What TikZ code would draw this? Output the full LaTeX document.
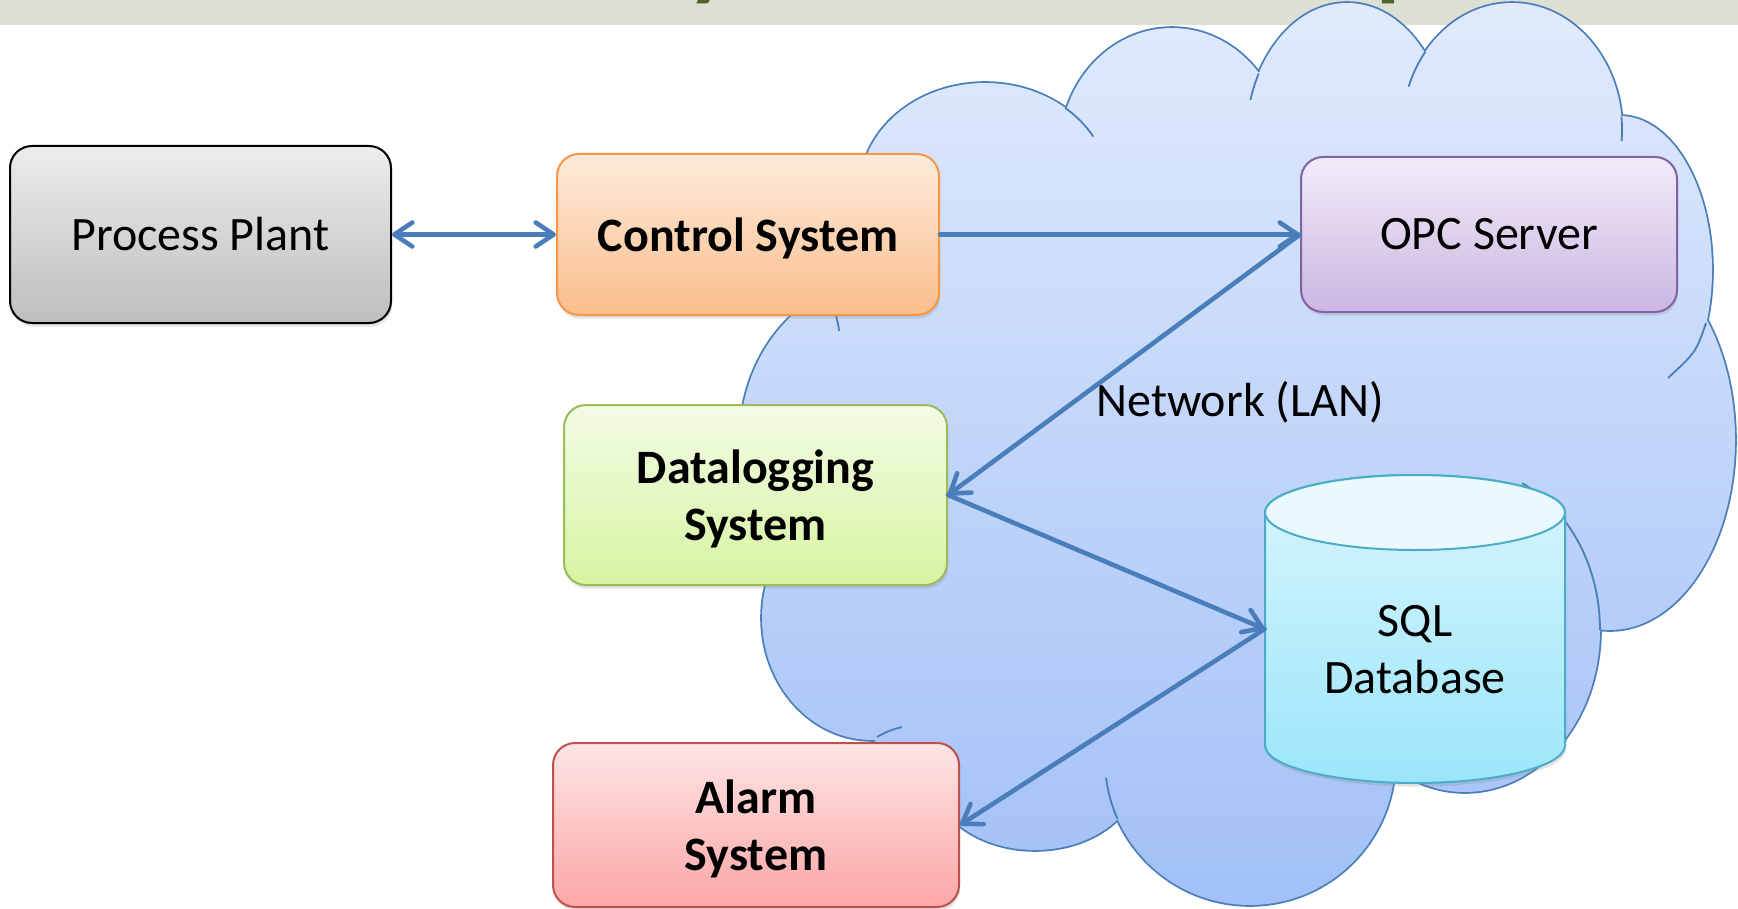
\documentclass[tikz,border=0pt]{standalone}
\usepackage{fontspec}
\setmainfont{Carlito}
\usetikzlibrary{arrows.meta,shadows}

\definecolor{bandgray}{RGB}{220,223,212}
\definecolor{titlegreen}{RGB}{79,98,40}
\definecolor{cloudtop}{RGB}{224,234,252}
\definecolor{cloudbot}{RGB}{162,192,247}
\definecolor{cloudline}{RGB}{74,126,187}
\definecolor{linkblue}{RGB}{74,126,187}
\definecolor{ppTop}{RGB}{236,236,236}
\definecolor{ppBot}{RGB}{190,190,190}
\definecolor{csTop}{RGB}{253,234,218}
\definecolor{csBot}{RGB}{250,190,140}
\definecolor{csLine}{RGB}{247,150,70}
\definecolor{opcTop}{RGB}{241,235,248}
\definecolor{opcBot}{RGB}{203,183,226}
\definecolor{opcLine}{RGB}{128,100,162}
\definecolor{dlTop}{RGB}{243,251,230}
\definecolor{dlBot}{RGB}{214,244,160}
\definecolor{dlLine}{RGB}{155,187,89}
\definecolor{alTop}{RGB}{253,229,229}
\definecolor{alBot}{RGB}{252,166,166}
\definecolor{alLine}{RGB}{192,80,77}
\definecolor{dbCap}{RGB}{234,249,254}
\definecolor{dbTop}{RGB}{216,245,253}
\definecolor{dbBot}{RGB}{156,230,250}
\definecolor{dbLine}{RGB}{75,172,198}

\newcommand\labelsize{\fontsize{24pt}{28.5pt}\selectfont}

\begin{document}
\begin{tikzpicture}[x=0.5pt, y=-0.5pt,
  >={Straight Barb[length=9pt,width=12pt,round]},
  box/.style={rounded corners=11pt, line width=1pt, align=center,
    inner sep=0pt, font=\labelsize,
    drop shadow={shadow xshift=0.6pt, shadow yshift=-1.8pt, opacity=0.22}},
  link/.style={draw=linkblue, line width=2.3pt, line cap=round},
  titlechar/.style={inner sep=0pt, text=titlegreen,
    font=\fontsize{49pt}{50pt}\selectfont\bfseries},
  puffs/.style={insert path={
    (985,190) ellipse [x radius=125, y radius=107]
    (1172,150) ellipse [x radius=112, y radius=122]
    (1347,140) ellipse [x radius=101, y radius=137]
    (1512,130) ellipse [x radius=110, y radius=127]
    (1620,270) ellipse [x radius=92, y radius=154]
    (1610,440) ellipse [x radius=125, y radius=190]
    (1465,630) ellipse [x radius=135, y radius=162]
    (1250,760) ellipse [x radius=145, y radius=145]
    (1035,770) ellipse [x radius=105, y radius=80]
    (872,618) ellipse [x radius=110, y radius=122]
    (880,440) ellipse [x radius=140, y radius=160]}},
  cloudcore/.style={insert path={
    (1250,450) ellipse [x radius=400, y radius=300]
    (880,190) -- (1065,125) -- (1258,90) -- (1425,70) -- (1610,130)
    -- (1690,325) -- (1595,615) -- (1380,750) -- (1125,805) -- (950,790)
    -- (875,741) -- (800,555) -- (920,300) -- cycle}},
  crease/.style={draw=cloudline, line width=0.9pt}
]
\useasboundingbox (0,0) rectangle (1738,909);
\fill[white] (0,0) rectangle (1738,909);

% title band with the lower ends of the heading letters
\fill[bandgray] (0,0) rectangle (1738,25);
\begin{scope}
  \clip (0,0) rectangle (1738,25);
  \node[titlechar, anchor=base west] (ty) at (687,-11) {y};
  \node[titlechar, anchor=base west] (tp) at (1376,-11) {p};
\end{scope}

% network cloud: outline of the puffs, then the gradient body on top
\draw[draw=cloudline, line width=1.8pt, puffs];
\shade[top color=cloudtop, bottom color=cloudbot, puffs, cloudcore];

% inner creases of the cloud
\draw[crease] (985,190) ++(-50:125 and 107)
  arc [start angle=-50, end angle=-30, x radius=125, y radius=107];
\draw[crease] (1347,140) ++(209:101 and 137)
  arc [start angle=209, end angle=197, x radius=101, y radius=137];
\draw[crease] (1512,130) ++(218:110 and 127)
  arc [start angle=218, end angle=200, x radius=110, y radius=127];
\draw[crease] (1512,130) ++(-6:110 and 127)
  arc [start angle=-6, end angle=5, x radius=110, y radius=127];
\draw[crease] (1706,323) .. controls (1696,352) .. (1668,378);
\draw[crease] (1465,630) ++(-65:135 and 162)
  arc [start angle=-65, end angle=0, x radius=135, y radius=162];
\draw[crease] (1250,760) ++(156:145 and 145)
  arc [start angle=156, end angle=173, x radius=145, y radius=145];
\draw[crease] (877,737) to[bend left=8] (902,727);
\draw[crease] (836,316) to[bend left=5] (839,331);

% boxes
\node[box, draw=black, top color=ppTop, bottom color=ppBot,
  minimum width=190.5pt, minimum height=88.5pt] (pp) at (200.5,234.5)
  {Process Plant};
\node[box, draw=csLine, top color=csTop, bottom color=csBot, text depth=0pt,
  minimum width=191pt, minimum height=80.5pt] (cs) at (748,234.5)
  {\bfseries Control System};
\node[box, draw=opcLine, top color=opcTop, bottom color=opcBot,
  minimum width=188pt, minimum height=77.5pt] (opc) at (1489,234.5)
  {OPC Server};
\node[box, draw=dlLine, top color=dlTop, bottom color=dlBot,
  minimum width=191.5pt, minimum height=90pt] (dl) at (755.5,495)
  {\bfseries Datalogging\\\bfseries \smash{System}};
\node[box, draw=alLine, top color=alTop, bottom color=alBot,
  minimum width=203pt, minimum height=82pt] (al) at (756,825)
  {\bfseries Alarm\\\bfseries \smash{System}};

% database cylinder
\node[inner sep=0pt, minimum width=150pt, minimum height=154pt] (db)
  at (1415,629) {};
\path[top color=dbTop, bottom color=dbBot, draw=dbLine, line width=1pt,
  drop shadow={shadow xshift=0.6pt, shadow yshift=-1.8pt, opacity=0.22}]
  (1265,512.5) -- (1265,745.5)
  arc [start angle=180, end angle=0, x radius=150, y radius=37.5]
  -- (1565,512.5)
  arc [start angle=0, end angle=-180, x radius=150, y radius=37.5] -- cycle;
\draw[fill=dbCap, draw=dbLine, line width=1pt]
  (1415,512.5) ellipse [x radius=150, y radius=37.5];
\node[font=\labelsize, align=center, inner sep=0pt] (dbtext) at (1415,650)
  {SQL\\Database};

\node[font=\labelsize, anchor=base, inner sep=0pt] (lan) at (1240,416)
  {Network (LAN)};

% connections
\draw[link, <->] (pp.east) -- (pp.east -| cs.west);
\draw[link, ->] (cs.east) -- (opc.west);
\draw[link, ->] (opc.west) -- (dl.east);
\draw[link, ->] (dl.east) -- (db.west);
\draw[link, ->] (db.west) -- (al.east);
\end{tikzpicture}
\end{document}
